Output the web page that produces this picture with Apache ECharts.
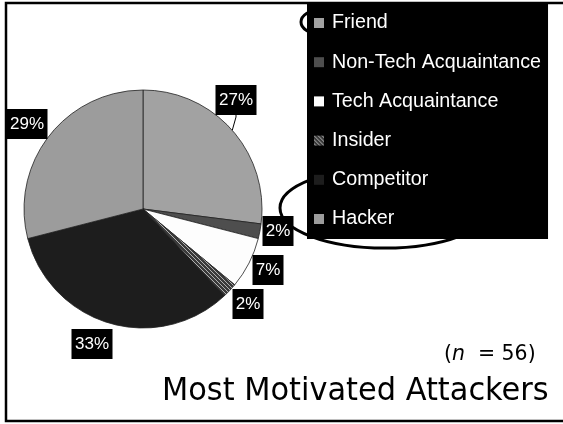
<!DOCTYPE html>
<html>
<head>
<meta charset="utf-8">
<script src="https://cdn.jsdelivr.net/npm/echarts@6/dist/echarts.min.js"></script>
<style>
  html, body { margin: 0; padding: 0; background: #fff; }
  #chart { width: 563px; height: 424px; }
</style>
</head>
<body>
<div id="chart"></div>
<script>
// Who respondents named as the most motivated attacker (percent of answers)
const categories = ['Friend', 'Non-Tech Acquaintance', 'Tech Acquaintance', 'Insider', 'Competitor', 'Hacker'];
const shares = [27, 2, 7, 2, 33, 29];
const sampleSize = 56;
const chartTitle = 'Most Motivated Attackers';

// Label box centres (px), one per slice
const labelSpots = [[236, 100], [278, 231], [268, 270], [248, 304], [92, 344], [27, 124]];

const labelFont = 'Arial';
const labelSize = 17;

// Width of a label's text, so the black box fits it exactly
const measurer = document.createElement('canvas').getContext('2d');
measurer.font = labelSize + 'px ' + labelFont;
const textWidth = s => Math.ceil(measurer.measureText(s).width);

// Diagonal hatch used for the "Insider" slice
function hatch() {
  const c = document.createElement('canvas');
  c.width = 4; c.height = 4;
  const g = c.getContext('2d');
  g.fillStyle = '#3a3a3a';
  g.fillRect(0, 0, 4, 4);
  g.fillStyle = '#b0b0b0';
  for (let i = 0; i < 4; i++) g.fillRect(i, i, 1, 1);
  return c;
}

const sliceColors = ['#a2a2a2', '#4e4e4e', '#fdfdfd', { image: hatch(), repeat: 'repeat' }, '#1d1d1d', '#9c9c9c'];

const chart = echarts.init(document.getElementById('chart'), null, { renderer: 'canvas' });

chart.setOption({
  animation: false,
  backgroundColor: '#fff',
  legend: {
    orient: 'vertical',
    left: 307,
    top: 3,
    z: 10,
    backgroundColor: '#000',
    padding: [10, 7, 10, 7],
    itemGap: 19.2,
    itemWidth: 10,
    itemHeight: 10,
    icon: 'rect',
    itemStyle: { borderWidth: 0 },
    textStyle: { color: '#fff', fontFamily: 'Arial', fontSize: 19.7, lineHeight: 20, padding: [0, 0, 0, 3] },
    selectedMode: false,
    data: categories
  },
  graphic: [
    { type: 'rect', z: 1, shape: { x: 6, y: 3, width: 640, height: 418 },
      style: { fill: 'none', stroke: '#000', lineWidth: 2.5 } },
    { type: 'ellipse', z: 1, shape: { cx: 320, cy: 22, rx: 19, ry: 12 },
      style: { fill: 'none', stroke: '#000', lineWidth: 3 } },
    { type: 'ellipse', z: 1, shape: { cx: 385, cy: 208, rx: 105, ry: 40 },
      style: { fill: 'none', stroke: '#000', lineWidth: 3 } },
    { type: 'text', z: 1, x: 444, y: 343, scaleX: 0.93,
      style: {
        text: '({i|n}  = ' + sampleSize + ')',
        fill: '#000',
        font: '22px "DejaVu Sans", sans-serif',
        rich: { i: { fontStyle: 'italic', fontSize: 22, fontFamily: 'DejaVu Sans' } }
      } },
    { type: 'text', z: 1, x: 162, y: 376, scaleX: 0.95,
      style: { text: chartTitle, fill: '#000', font: '32px "DejaVu Sans", sans-serif' } }
  ],
  series: [{
    type: 'pie',
    center: [143, 209],
    radius: [0, 119],
    startAngle: 90,
    clockwise: true,
    z: 3,
    itemStyle: { borderColor: '#222', borderWidth: 0.8 },
    label: {
      show: true,
      position: 'outside',
      overflow: 'none',
      formatter: p => p.value + '%',
      color: '#fff',
      backgroundColor: '#000',
      padding: [7, 3, 6, 3],
      fontFamily: labelFont,
      fontSize: labelSize,
      lineHeight: 17
    },
    labelLine: { show: false },
    labelLayout: p => {
      const s = labelSpots[p.dataIndex];
      return { x: s[0], y: s[1], align: 'center', verticalAlign: 'middle' };
    },
    data: categories.map((name, i) => ({
      name,
      value: shares[i],
      itemStyle: { color: sliceColors[i] },
      label: { width: textWidth(shares[i] + '%') },
      labelLine: i === 0 ? { show: true, length: 6, length2: 2, lineStyle: { color: '#000', width: 1 } } : { show: false }
    }))
  }]
});
</script>
</body>
</html>
